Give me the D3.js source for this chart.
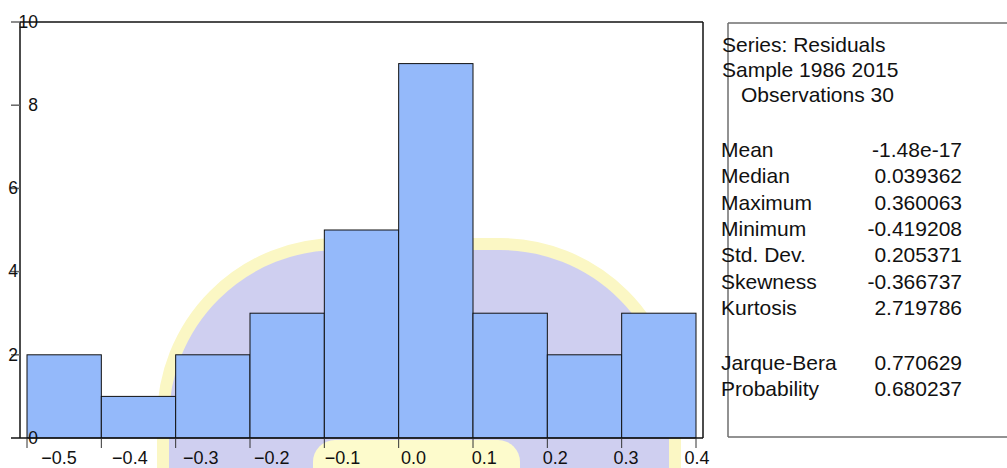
<!DOCTYPE html>
<html>
<head>
<meta charset="utf-8">
<script src="https://cdn.jsdelivr.net/npm/d3@7"></script>
<style>
  html, body { margin: 0; padding: 0; background: #fff; }
  #chart { width: 1007px; height: 468px; overflow: hidden; }
</style>
</head>
<body>
<div id="chart"></div>
<script>
// histogram of residuals
const binStarts = [-0.5, -0.4, -0.3, -0.2, -0.1, 0.0, 0.1, 0.2, 0.3];
const binWidth = 0.1;
const counts = [2, 1, 2, 3, 5, 9, 3, 2, 3];
const xTicks = [-0.5, -0.4, -0.3, -0.2, -0.1, 0.0, 0.1, 0.2, 0.3, 0.4];
const yTicks = [0, 2, 4, 6, 8, 10];

const headerLines = ["Series: Residuals", "Sample 1986 2015", "Observations 30"];
const statNames = ["Mean", "Median", "Maximum", "Minimum", "Std. Dev.", "Skewness", "Kurtosis"];
const statValues = ["-1.48e-17", "0.039362", "0.360063", "-0.419208", "0.205371", "-0.366737", "2.719786"];
const testNames = ["Jarque-Bera", "Probability"];
const testValues = ["0.770629", "0.680237"];

const width = 1007, height = 468;
const font = "'Liberation Sans', Arial, sans-serif";

const svg = d3.create("svg")
    .attr("width", width)
    .attr("height", height)
    .attr("style", `font-family: ${font};`);

// faint logo watermark behind the plot
const wm = svg.append("g");
wm.append("rect")
    .attr("x", 163).attr("y", 244)
    .attr("width", 512).attr("height", 420)
    .attr("rx", 175)
    .attr("fill", "#cfcff0")
    .attr("stroke", "#fbf7c4")
    .attr("stroke-width", 12);
wm.append("rect")
    .attr("x", 313).attr("y", 440)
    .attr("width", 207).attr("height", 60)
    .attr("rx", 22)
    .attr("fill", "#fdfbcc");

const x = d3.scaleLinear().domain([-0.5, 0.4]).range([27, 696]);
const xLabel = d3.scaleLinear().domain([-0.5, 0.4]).range([59, 697]);
const y = d3.scaleLinear().domain([0, 10]).range([438, 22]);

const frameRight = 703, axisLeft = 20;

// bars
svg.append("g")
    .selectAll("rect")
    .data(binStarts)
    .join("rect")
    .attr("x", d => x(d))
    .attr("y", (d, i) => y(counts[i]))
    .attr("width", d => x(d + binWidth) - x(d))
    .attr("height", (d, i) => y(0) - y(counts[i]))
    .attr("fill", "#94b9fa")
    .attr("stroke", "#111")
    .attr("stroke-width", 1);

// frame
const frame = svg.append("g").attr("stroke", "#111").attr("stroke-width", 1.5);
frame.append("line").attr("x1", axisLeft).attr("x2", frameRight).attr("y1", y(10)).attr("y2", y(10));
frame.append("line").attr("x1", frameRight).attr("x2", frameRight).attr("y1", y(10)).attr("y2", y(0));
frame.append("line").attr("x1", axisLeft).attr("x2", axisLeft).attr("y1", y(10)).attr("y2", y(0));
frame.append("line").attr("x1", 11).attr("x2", frameRight).attr("y1", y(0)).attr("y2", y(0));

// y ticks
const yRightLabels = new Set([0, 8, 10]);
const yAxis = svg.append("g");
yAxis.selectAll("line")
    .data(yTicks.filter(d => d > 0))
    .join("line")
    .attr("x1", 11).attr("x2", axisLeft)
    .attr("y1", d => y(d)).attr("y2", d => y(d))
    .attr("stroke", "#666").attr("stroke-width", 1.5);
yAxis.selectAll("text")
    .data(yTicks)
    .join("text")
    .attr("x", d => yRightLabels.has(d) ? 38 : 18)
    .attr("y", d => y(d))
    .attr("dy", "0.33em")
    .attr("text-anchor", "end")
    .attr("font-size", 17.5)
    .attr("fill", "#111")
    .text(d => d);

// x ticks
const xAxis = svg.append("g");
xAxis.selectAll("line")
    .data(xTicks)
    .join("line")
    .attr("x1", d => x(d)).attr("x2", d => x(d))
    .attr("y1", y(0)).attr("y2", y(0) + 10)
    .attr("stroke", "#333").attr("stroke-width", 1);
xAxis.selectAll("text")
    .data(xTicks)
    .join("text")
    .attr("x", d => xLabel(d))
    .attr("y", 464)
    .attr("text-anchor", "middle")
    .attr("font-size", 18)
    .attr("fill", "#111")
    .text(d => d3.format(".1f")(d));

// stats panel
const box = svg.append("g").attr("stroke", "#6e6e6e").attr("stroke-width", 1.5);
box.append("line").attr("x1", 728).attr("x2", 1007).attr("y1", 23).attr("y2", 23);
box.append("line").attr("x1", 728).attr("x2", 1007).attr("y1", 437).attr("y2", 437);
box.append("line").attr("x1", 728).attr("x2", 728).attr("y1", 23).attr("y2", 437);

const panel = svg.append("g").attr("font-size", 21).attr("fill", "#111");
const headerX = [722, 722, 741];
panel.selectAll("text.hdr")
    .data(headerLines)
    .join("text")
    .attr("class", "hdr")
    .attr("x", (d, i) => headerX[i])
    .attr("y", (d, i) => 51.5 + i * 25.2)
    .text(d => d);

const rows = statNames.map((n, i) => ({name: n, value: statValues[i], y: 157 + i * 26.3}))
    .concat(testNames.map((n, i) => ({name: n, value: testValues[i], y: 370 + i * 25.5})));

panel.selectAll("text.nm")
    .data(rows)
    .join("text")
    .attr("class", "nm")
    .attr("x", 721)
    .attr("y", d => d.y)
    .text(d => d.name);

panel.selectAll("text.val")
    .data(rows)
    .join("text")
    .attr("class", "val")
    .attr("x", 962)
    .attr("y", d => d.y)
    .attr("text-anchor", "end")
    .text(d => d.value);

document.getElementById("chart").appendChild(svg.node());
</script>
</body>
</html>
